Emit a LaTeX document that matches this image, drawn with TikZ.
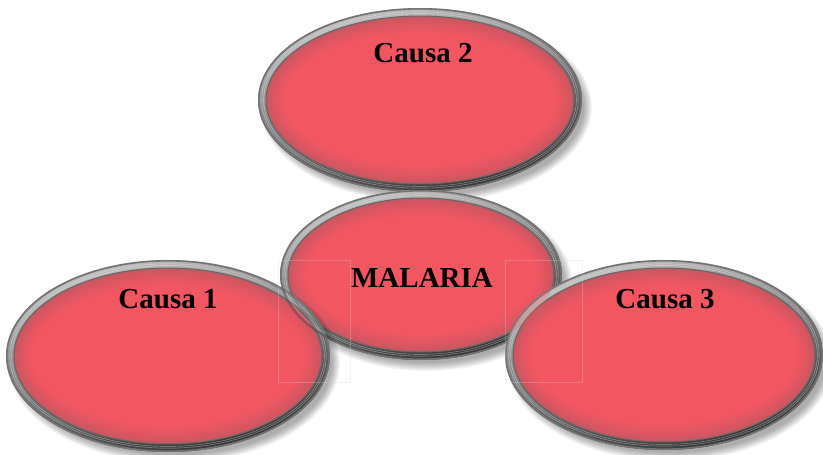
\documentclass[tikz,border=0pt]{standalone}
\usepackage{fontspec}
\setmainfont{Liberation Serif}
\definecolor{ellred}{RGB}{241,86,97}
\definecolor{glowc}{RGB}{140,95,100}
\definecolor{rimlight}{RGB}{195,195,195}
\definecolor{rimdark}{RGB}{50,50,50}
\definecolor{faint}{RGB}{215,215,215}
\tikzset{
  lbl/.style={font=\bfseries\fontsize{29}{34}\selectfont, text=black, inner sep=0pt, anchor=base},
  ghostbox/.style={draw=faint, opacity=0.28, line width=0.4pt}
}
% #1 cx, #2 cy, #3 rx, #4 ry
\newcommand\ellshadow[4]{%
  \foreach \k in {0,...,8}{%
    \fill[black,opacity=0.04] (#1+6,#2+7) ellipse [x radius={(#3+4-\k)*1pt}, y radius={(#4+4-\k)*1pt}];}}
\newcommand\ellbody[4]{%
  \shade[top color=rimlight, bottom color=rimdark, shading angle=15]
     (#1,#2) ellipse [x radius={#3*1pt}, y radius={#4*1pt}];
  \draw[black!55, line width=1.6pt] (#1,#2) ellipse [x radius={(#3-0.8)*1pt}, y radius={(#4-0.8)*1pt}];
  \draw[white, opacity=0.45, line width=0.4pt] (#1,#2) ellipse [x radius={(#3-3.8)*1pt}, y radius={(#4-3.8)*1pt}];
  \draw[white, opacity=0.45, line width=0.4pt] (#1,#2) ellipse [x radius={(#3-5.6)*1pt}, y radius={(#4-5.6)*1pt}];
  \fill[ellred] (#1,#2) ellipse [x radius={(#3-8)*1pt}, y radius={(#4-8)*1pt}];
  \begin{scope}
    \clip (#1,#2) ellipse [x radius={(#3-8)*1pt}, y radius={(#4-8)*1pt}];
    \foreach \w/\o in {34/0.06, 26/0.07, 18/0.09, 11/0.12, 5/0.16}{%
      \draw[glowc, opacity=\o, line width=\w pt] (#1,#2) ellipse [x radius={(#3-8)*1pt}, y radius={(#4-8)*1pt}];}
  \end{scope}
  \draw[black!60, line width=1pt] (#1,#2) ellipse [x radius={(#3-8)*1pt}, y radius={(#4-8)*1pt}];
}
\begin{document}
\begin{tikzpicture}[x=1pt,y=-1pt]
\useasboundingbox (0,0) rectangle (823,455);
\fill[white] (0,0) rectangle (823,455);
% Causa 2
\ellshadow{420}{100}{162}{92}
\ellbody{420}{100}{162}{92}
\node[lbl] (c2) at (423,62) {Causa 2};
% MALARIA
\ellshadow{421}{275}{141}{85}
\ellbody{421}{275}{141}{85}
\node[lbl] (mal) at (422,287) {MALARIA};
% Causa 1
\ellshadow{168}{356}{162}{96}
\ellbody{168}{356}{162}{96}
\begin{scope}
  \clip (168,356) ellipse [x radius=162pt, y radius=96pt];
  \draw[black!70, opacity=0.5, line width=2pt] (421,275) ellipse [x radius=140pt, y radius=84pt];
  \draw[white, opacity=0.3, line width=0.4pt] (421,275) ellipse [x radius=137.2pt, y radius=81.2pt];
  \draw[black!60, opacity=0.4, line width=1.5pt] (421,275) ellipse [x radius=133pt, y radius=77pt];
\end{scope}
\node[lbl] (c1) at (168,308) {Causa 1};
% Causa 3
\ellshadow{664}{355}{159}{95}
\ellbody{664}{355}{159}{95}
\begin{scope}
  \clip (664,355) ellipse [x radius=159pt, y radius=95pt];
  \fill[ellred, opacity=0.25] (421,275) ellipse [x radius=133pt, y radius=77pt];
\end{scope}
\node[lbl] (c3) at (665,308) {Causa 3};
% faint boxes
\draw[ghostbox] (278,260) rectangle (350,382);
\draw[ghostbox] (505,260) rectangle (582,382);
\end{tikzpicture}
\end{document}
